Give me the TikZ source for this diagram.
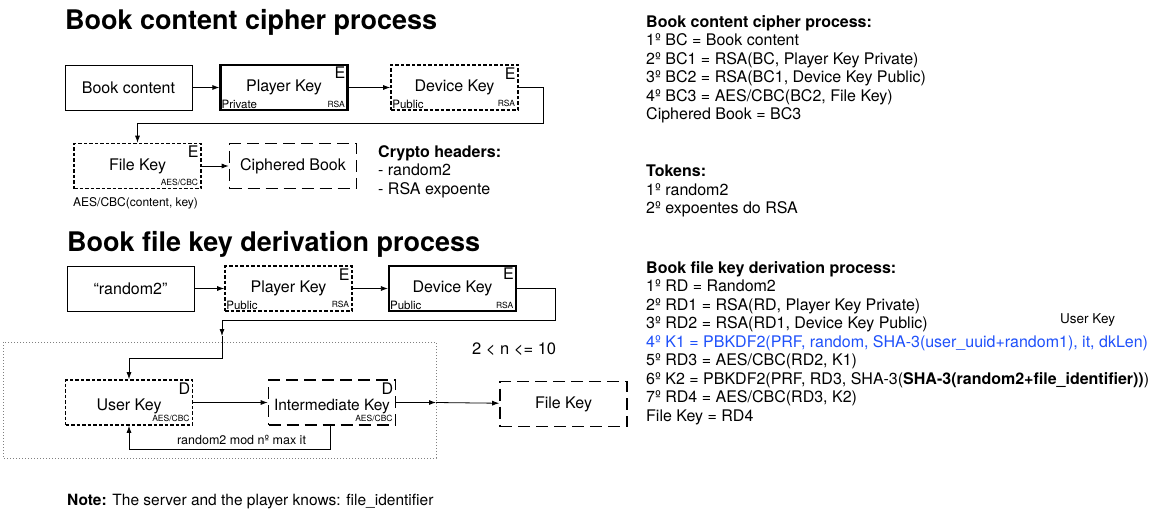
\documentclass[tikz,border=0pt]{standalone}
\usepackage{fontspec}
\setmainfont{TeX Gyre Heros}
\usetikzlibrary{arrows.meta}
\definecolor{stepblue}{RGB}{30,80,250}

\begin{document}
\begin{tikzpicture}[x=1pt,y=-1pt,
    key_box/.style={minimum width=127pt,minimum height=45pt,inner sep=0pt,font=\fontsize{16}{18}\selectfont},
    plain_box/.style={key_box,draw,line width=0.8pt},
    thick_box/.style={key_box,draw,line width=2.2pt},
    short_box/.style={key_box,draw,line width=1.6pt,dash pattern=on 3.5pt off 2pt},
    long_box/.style={key_box,draw,line width=1.6pt,dash pattern=on 12pt off 6pt},
    low_text/.style={text height=15pt,text depth=0pt},
    op_mark/.style={label={[anchor=north east,inner sep=3pt,font=\fontsize{16}{16}\selectfont]north east:#1}},
    kind_mark/.style={label={[anchor=south west,inner sep=2pt,font=\fontsize{11.5}{11.5}\selectfont]south west:#1}},
    algo_mark/.style={label={[anchor=south east,inner sep=3.5pt,font=\fontsize{8.5}{8.5}\selectfont]south east:#1}},
    arr/.style={-{Latex[length=7pt,width=5pt]},line width=0.8pt},
    title_text/.style={anchor=west,inner sep=0pt,font=\bfseries\fontsize{27}{27}\selectfont},
    side_text/.style={anchor=north west,align=left,inner sep=0pt,font=\fontsize{16}{18.5}\selectfont}]

    \useasboundingbox (0,0) rectangle (1150,516);

    % cipher process
    \node[title_text] (t1) at (65,22) {Book content cipher process};

    \node[plain_box] (a1) at (128.5,87.5) {Book content};
    \node[thick_box,op_mark=E,kind_mark=Private,algo_mark=RSA] (a2) at (284,87.5) {Player Key};
    \node[short_box,op_mark=E,kind_mark=Public,algo_mark=RSA] (a3) at (454.5,87.5) {Device Key};
    \node[short_box,op_mark=E,algo_mark=AES/CBC] (a4) at (137.5,166) {File Key};
    \node[long_box] (a5) at (293,166) {Ciphered Book};
    \node[anchor=west,inner sep=0pt,font=\fontsize{12}{12}\selectfont] (a6) at (73,203) {AES/CBC(content, key)};
    \node[side_text] (a7) at (378,145) {\textbf{Crypto headers:}\\- random2\\- RSA expoente};

    \coordinate (k1) at (543,123);

    \draw[arr] (a1) -- (a2);
    \draw[arr] (a2) -- (a3);
    \draw[arr] (a3.east) -| (k1) -| (a4.north);
    \draw[arr] (a4) -- (a5);

    % file key derivation
    \node[title_text] (t2) at (67,244) {Book file key derivation process};

    \node[plain_box] (b1) at (130.5,288.5) {“random2”};
    \node[short_box,op_mark=E,kind_mark=Public,algo_mark=RSA] (b2) at (288.5,288.5) {Player Key};
    \node[thick_box,op_mark=E,kind_mark=Public,algo_mark=RSA] (b3) at (452.5,288.5) {Device Key};

    \draw[gray,line width=0.6pt,dash pattern=on 1pt off 2pt] (3,342) rectangle (436,458);

    \node[short_box,low_text,op_mark=D,algo_mark=AES/CBC] (c1) at (129,402.5) {User Key};
    \node[long_box,low_text,op_mark=D,algo_mark=AES/CBC,font=\fontsize{15.5}{16}\selectfont] (c2) at (332,402.5) {Intermediate Key};
    \node[long_box] (c3) at (563.5,404) {File Key};
    \node[anchor=west,inner sep=0pt,font=\fontsize{16.5}{16.5}\selectfont] (n1) at (472,349) {2 < n <= 10};

    \coordinate (k2) at (555,320);
    \coordinate (k3) at (222,336);
    \coordinate (k4) at (222,358);
    \coordinate (k5) at (436,402.5);
    \coordinate (k6) at (330,449);

    \draw[arr] (b1) -- (b2);
    \draw[arr] (b2) -- (b3);
    \draw[arr] (b3.east) -| (k2) -| (k3);
    \draw[arr] (k3) -- (k4) -| (c1.north);
    \draw[arr] (c1) -- (c2);
    \draw[arr] (c2) -- (k5);
    \draw[arr] (k5) -- (c3);
    \draw[arr] (k6 |- c2.south) -- (k6) -| (c1.south)
        node[pos=0.22,above=1pt,font=\fontsize{12.5}{12.5}\selectfont] {random2 mod nº max it};

    % text on the right
    \node[side_text] (s1) at (646,15) {\textbf{Book content cipher process:}\\
        1º BC = Book content\\
        2º BC1 = RSA(BC, Player Key Private)\\
        3º BC2 = RSA(BC1, Device Key Public)\\
        4º BC3 = AES/CBC(BC2, File Key)\\
        Ciphered Book = BC3};
    \node[side_text] (s2) at (646,165) {\textbf{Tokens:}\\
        1º random2\\
        2º expoentes do RSA};
    \node[side_text] (s3) at (646,261) {\textbf{Book file key derivation process:}\\
        1º RD = Random2\\
        2º RD1 = RSA(RD, Player Key Private)\\
        3º RD2 = RSA(RD1, Device Key Public)\\
        {\color{stepblue}4º K1 = PBKDF2(PRF, random, SHA-3(user\_uuid+random1), it, dkLen)}\\
        5º RD3 = AES/CBC(RD2, K1)\\
        6º K2 = PBKDF2(PRF, RD3, SHA-3(\textbf{SHA-3(random2+file\_identifier))})\\
        7º RD4 = AES/CBC(RD3, K2)\\
        File Key = RD4};
    \node[anchor=west,inner sep=0pt,font=\fontsize{13.5}{13.5}\selectfont] (s4) at (1060,320) {User Key};

    \node[anchor=west,inner sep=0pt,font=\fontsize{15.5}{15.5}\selectfont] (s5) at (67,502) {\textbf{Note:} The server and the player knows: file\_identifier};
\end{tikzpicture}
\end{document}
